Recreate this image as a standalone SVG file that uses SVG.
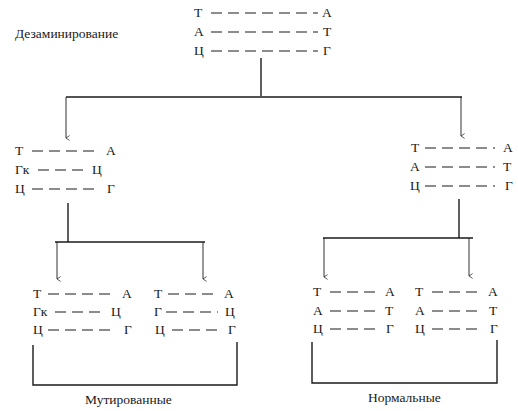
<svg xmlns="http://www.w3.org/2000/svg" width="518" height="411" viewBox="0 0 518 411" font-family="'Liberation Serif', 'DejaVu Serif', 'Times New Roman', serif">
<defs>
<style>
text{font-family:'Liberation Serif','DejaVu Serif','Times New Roman',serif;font-size:13.5px;fill:#1a1a1a}
.d{stroke:#1a1a1a;stroke-width:1.2;stroke-dasharray:11 6;fill:none}
.ln{stroke:#1a1a1a;stroke-width:1.4;fill:none}
.ar{stroke:#1a1a1a;stroke-width:0.9;fill:none}
</style>
<marker id="ah" viewBox="0 0 10 10" refX="5" refY="9" markerWidth="6" markerHeight="6" orient="auto-start-reverse" markerUnits="userSpaceOnUse">
<path d="M1,3 L5,9 L9,3" fill="none" stroke="#1a1a1a" stroke-width="1.2"/>
</marker>
</defs>
<rect width="518" height="411" fill="#ffffff"/>
<text x="15" y="38">Дезаминирование</text>

<g id="top">
<text x="194" y="17">Т</text><line class="d" x1="211" y1="13" x2="318" y2="13"/><text x="322" y="17">А</text>
<text x="194" y="36">А</text><line class="d" x1="211" y1="32" x2="318" y2="32"/><text x="323" y="36">Т</text>
<text x="194" y="55">Ц</text><line class="d" x1="211" y1="51" x2="318" y2="51"/><text x="323" y="55">Г</text>
</g>

<g id="mid-left">
<text x="15" y="155">Т</text><line class="d" x1="32" y1="151" x2="100" y2="151"/><text x="106" y="155">А</text>
<text x="15" y="174">Гк</text><line class="d" x1="38" y1="170" x2="86" y2="170"/><text x="92" y="174">Ц</text>
<text x="15" y="193">Ц</text><line class="d" x1="32" y1="189" x2="100" y2="189"/><text x="107" y="193">Г</text>
</g>

<g id="mid-right">
<text x="411" y="152">Т</text><line class="d" x1="425" y1="148" x2="495" y2="148"/><text x="503" y="152">А</text>
<text x="410" y="171">А</text><line class="d" x1="425" y1="167" x2="495" y2="167"/><text x="503" y="171">Т</text>
<text x="410" y="190">Ц</text><line class="d" x1="425" y1="186" x2="495" y2="186"/><text x="505" y="190">Г</text>
</g>

<g id="bottom-left-1">
<text x="33" y="298">Т</text><line class="d" x1="48" y1="294" x2="116" y2="294"/><text x="122" y="298">А</text>
<text x="33" y="316">Гк</text><line class="d" x1="55" y1="312" x2="103" y2="312"/><text x="111" y="316">Ц</text>
<text x="33" y="334">Ц</text><line class="d" x1="48" y1="330" x2="116" y2="330"/><text x="124" y="334">Г</text>
</g>

<g id="bottom-left-2">
<text x="154" y="298">Т</text><line class="d" x1="168" y1="294" x2="218" y2="294"/><text x="224" y="298">А</text>
<text x="154" y="316">Г</text><line class="d" x1="166" y1="312" x2="218" y2="312"/><text x="225" y="316">Ц</text>
<text x="155" y="334">Ц</text><line class="d" x1="172" y1="330" x2="222" y2="330"/><text x="228" y="334">Г</text>
</g>

<g id="bottom-right-1">
<text x="313" y="296">Т</text><line class="d" x1="330" y1="292" x2="378" y2="292"/><text x="385" y="296">А</text>
<text x="313" y="315">А</text><line class="d" x1="330" y1="311" x2="378" y2="311"/><text x="385" y="315">Т</text>
<text x="313" y="333">Ц</text><line class="d" x1="330" y1="329" x2="378" y2="329"/><text x="386" y="333">Г</text>
</g>

<g id="bottom-right-2">
<text x="415" y="296">Т</text><line class="d" x1="432" y1="292" x2="482" y2="292"/><text x="488" y="296">А</text>
<text x="415" y="315">А</text><line class="d" x1="432" y1="311" x2="482" y2="311"/><text x="489" y="315">Т</text>
<text x="415" y="333">Ц</text><line class="d" x1="432" y1="329" x2="482" y2="329"/><text x="490" y="333">Г</text>
</g>

<g id="connectors">
<line class="ln" x1="261" y1="58" x2="261" y2="96"/>
<line class="ln" x1="66" y1="97" x2="462" y2="97"/>
<line class="ar" x1="66" y1="97" x2="66" y2="138" marker-end="url(#ah)"/>
<line class="ar" x1="461" y1="97" x2="461" y2="136" marker-end="url(#ah)"/>

<line class="ln" x1="68" y1="203" x2="68" y2="242"/>
<line class="ln" x1="55" y1="242" x2="205" y2="242"/>
<line class="ar" x1="57" y1="242" x2="57" y2="279" marker-end="url(#ah)"/>
<line class="ar" x1="203" y1="242" x2="203" y2="279" marker-end="url(#ah)"/>

<line class="ln" x1="459" y1="199" x2="459" y2="238"/>
<line class="ln" x1="323" y1="238" x2="473" y2="238"/>
<line class="ar" x1="324" y1="238" x2="324" y2="277" marker-end="url(#ah)"/>
<line class="ar" x1="469" y1="238" x2="469" y2="276" marker-end="url(#ah)"/>

<path class="ln" d="M33,345 V385 H237 V342"/>
<path class="ln" d="M312,342 V383 H497 V340"/>
</g>

<text x="85" y="404">Мутированные</text>
<text x="368" y="402">Нормальные</text>
</svg>
